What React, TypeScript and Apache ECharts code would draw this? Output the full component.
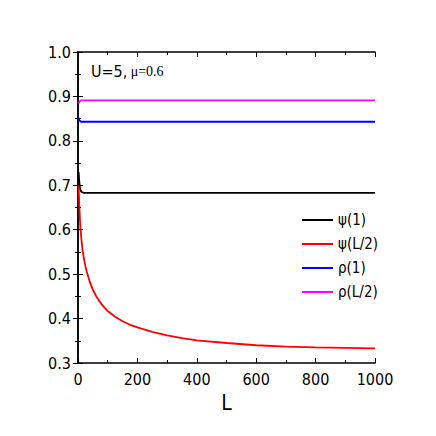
import React, { useEffect, useRef } from "react";
import * as echarts from "echarts";

const Ls = [2, 3, 4, 5, 6, 8, 10, 12, 15, 20, 25, 30, 35, 40, 50, 60, 70, 80, 90, 100, 125, 150, 175, 200, 250, 300, 350, 400, 500, 600, 700, 800, 900, 1000];

const psi1 = [0.73, 0.72, 0.71, 0.703, 0.697, 0.69, 0.687, 0.685, 0.684, 0.683, 0.683, 0.683, 0.683, 0.683, 0.683, 0.683, 0.683, 0.683, 0.683, 0.683, 0.683, 0.683, 0.683, 0.683, 0.683, 0.683, 0.683, 0.683, 0.683, 0.683, 0.683, 0.683, 0.683, 0.683];
const psiHalf = [0.70, 0.68, 0.66, 0.645, 0.63, 0.605, 0.59, 0.575, 0.555, 0.535, 0.518, 0.505, 0.493, 0.482, 0.465, 0.452, 0.441, 0.432, 0.424, 0.417, 0.404, 0.394, 0.386, 0.38, 0.37, 0.362, 0.356, 0.351, 0.345, 0.34, 0.337, 0.335, 0.334, 0.333];
const rho1 = [0.852, 0.85, 0.848, 0.846, 0.845, 0.844, 0.843, 0.843, 0.843, 0.843, 0.843, 0.843, 0.843, 0.843, 0.843, 0.843, 0.843, 0.843, 0.843, 0.843, 0.843, 0.843, 0.843, 0.843, 0.843, 0.843, 0.843, 0.843, 0.843, 0.843, 0.843, 0.843, 0.843, 0.843];
const rhoHalf = [0.884, 0.886, 0.887, 0.888, 0.889, 0.89, 0.891, 0.891, 0.891, 0.891, 0.891, 0.891, 0.891, 0.891, 0.891, 0.891, 0.891, 0.891, 0.891, 0.891, 0.891, 0.891, 0.891, 0.891, 0.891, 0.891, 0.891, 0.891, 0.891, 0.891, 0.891, 0.891, 0.891, 0.891];

const seriesNames = ["ψ(1)", "ψ(L/2)", "ρ(1)", "ρ(L/2)"];
const seriesColors = ["#000000", "#ff0000", "#0000ff", "#ff00ff"];
const seriesValues = [psi1, psiHalf, rho1, rhoHalf];

const FONT = "'DejaVu Sans Condensed', 'Liberation Sans Narrow', 'Liberation Sans', Arial, sans-serif";

export default function App() {
  const ref = useRef<HTMLDivElement>(null);
  useEffect(() => {
    if (!ref.current) return;
    const chart = echarts.init(ref.current, undefined, { renderer: "svg" });
    const axisLine = { show: true, lineStyle: { color: "#000", width: 1.5 } };
    const tick = { show: true, inside: true, length: 5, lineStyle: { color: "#000", width: 1 } };
    const minor = { show: true, splitNumber: 2, length: 3, lineStyle: { color: "#000", width: 1 } };
    const labelStyle = { color: "#000", fontFamily: FONT, fontSize: 16 };
    chart.setOption({
      animation: false,
      backgroundColor: "#fff",
      grid: { left: 78, right: 61, top: 52, bottom: 73 },
      xAxis: [
        {
          type: "value", min: 0, max: 1000, interval: 200, position: "bottom",
          axisLine, axisTick: tick, minorTick: minor, splitLine: { show: false },
          axisLabel: { ...labelStyle, margin: 8, formatter: (v: number) => String(v) },
          name: "L", nameLocation: "middle", nameGap: 29,
          nameTextStyle: { color: "#000", fontFamily: FONT, fontSize: 21 },
        },
        {
          type: "value", min: 0, max: 1000, interval: 200, position: "top",
          axisLine, axisTick: tick, minorTick: minor, splitLine: { show: false },
          axisLabel: { show: false },
        },
      ],
      yAxis: [
        {
          type: "value", min: 0.3, max: 1.0, interval: 0.1, position: "left",
          axisLine, axisTick: tick, minorTick: minor, splitLine: { show: false },
          axisLabel: { ...labelStyle, margin: 7, formatter: (v: number) => v.toFixed(1) },
        },
        {
          type: "value", min: 0.3, max: 1.0, interval: 0.1, position: "right",
          axisLine, axisTick: tick, minorTick: minor, splitLine: { show: false },
          axisLabel: { show: false },
        },
      ],
      legend: {
        orient: "vertical", left: 297, top: 207, itemGap: 8, itemWidth: 31, itemHeight: 2, icon: "rect",
        textStyle: { color: "#000", fontFamily: FONT, fontSize: 15, lineHeight: 16 },
        data: seriesNames,
      },
      graphic: [
        {
          type: "text", left: 91, top: 63,
          style: {
            text: "{a|U=5,} {b|μ=0.6}",
            rich: {
              a: { fontFamily: FONT, fontSize: 16, fill: "#000" },
              b: { fontFamily: "'Liberation Serif', 'Times New Roman', serif", fontSize: 14, fill: "#000" },
            },
          },
        },
      ],
      series: seriesNames.map((name, i) => ({
        name, type: "line", showSymbol: false, smooth: false,
        color: seriesColors[i],
        lineStyle: { color: seriesColors[i], width: 1.8 },
        data: Ls.map((l, j) => [l, seriesValues[i][j]]),
      })),
    });
    return () => chart.dispose();
  }, []);
  return <div ref={ref} style={{ position: "fixed", left: 0, top: 0, width: 436, height: 436 }} />;
}
